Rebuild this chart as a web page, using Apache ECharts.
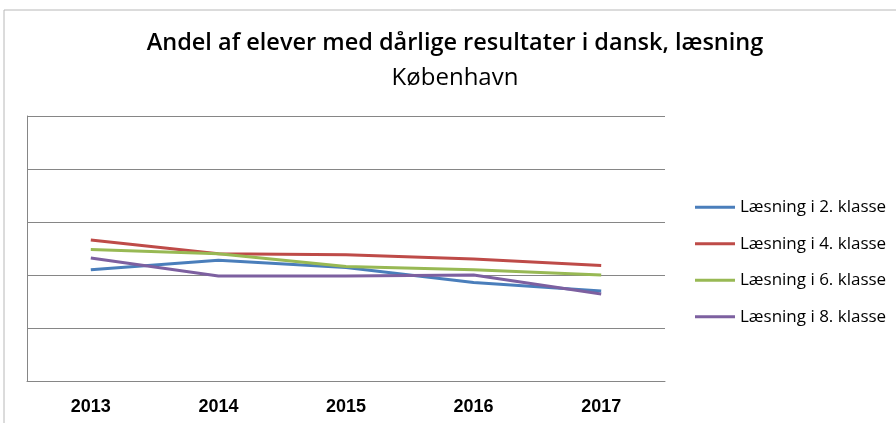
<!DOCTYPE html>
<html>
<head>
<meta charset="utf-8">
<script src="https://cdn.jsdelivr.net/npm/echarts@6/dist/echarts.min.js"></script>
<style>
  html, body { margin: 0; padding: 0; background: #fff; }
  #chart { width: 896px; height: 423px; }
</style>
</head>
<body>
<div id="chart"></div>
<script>
// data (y axis has no labels, 0-25 scale, 5 gridlines)
const years = ['2013', '2014', '2015', '2016', '2017']
const seriesNames = ['Læsning i 2. klasse', 'Læsning i 4. klasse', 'Læsning i 6. klasse', 'Læsning i 8. klasse']
const klasse2 = [10.5, 11.4, 10.7, 9.3, 8.5]
const klasse4 = [13.3, 12.0, 11.9, 11.5, 10.9]
const klasse6 = [12.4, 12.0, 10.8, 10.5, 10.0]
const klasse8 = [11.6, 9.9, 9.9, 10.0, 8.2]
const colors = ['#4a7ebb', '#be4b48', '#98b954', '#7d60a0']

const chart = echarts.init(document.getElementById('chart'))

const values = [klasse2, klasse4, klasse6, klasse8]
const series = values.map((v, i) => ({
  name: seriesNames[i],
  type: 'line',
  data: v,
  symbol: 'none',
  lineStyle: { width: 3, color: colors[i] },
  itemStyle: { color: colors[i] }
}))

chart.setOption({
  animation: false,
  title: [
    {
      text: 'Andel af elever med dårlige resultater i dansk, læsning',
      left: 450, top: 26, textAlign: 'center',
      textStyle: { fontFamily: 'Open Sans', fontSize: 23.5, fontWeight: 600, color: '#000' }
    },
    {
      text: 'København',
      left: 450, top: 61, textAlign: 'center',
      textStyle: { fontFamily: 'Open Sans', fontSize: 24, fontWeight: 'normal', color: '#000' }
    }
  ],
  graphic: [{
    type: 'rect',
    shape: { x: 4, y: 10, width: 1000, height: 600 },
    style: { fill: 'none', stroke: '#b8b8b8', lineWidth: 1 },
    silent: true
  }],
  legend: {
    orient: 'vertical',
    left: 695, top: 197,
    padding: 0,
    icon: 'rect',
    itemWidth: 40, itemHeight: 3,
    itemGap: 16,
    data: seriesNames,
    textStyle: { fontFamily: 'Open Sans', fontSize: 17, color: '#000', lineHeight: 20.5 }
  },
  grid: { left: 27, right: 231, top: 116, bottom: 42, containLabel: false },
  xAxis: {
    type: 'category',
    data: years,
    boundaryGap: true,
    axisLine: { lineStyle: { color: '#868686', width: 1 } },
    axisTick: { show: false },
    axisLabel: { margin: 17, fontFamily: 'Liberation Sans', fontSize: 18, fontWeight: 'bold', color: '#000' }
  },
  yAxis: {
    type: 'value',
    min: 0, max: 25, interval: 5,
    axisLine: { show: true, lineStyle: { color: '#868686', width: 1 } },
    axisTick: { show: false },
    axisLabel: { show: false },
    splitLine: { lineStyle: { color: '#868686', width: 1 } }
  },
  series: series
})
</script>
</body>
</html>
